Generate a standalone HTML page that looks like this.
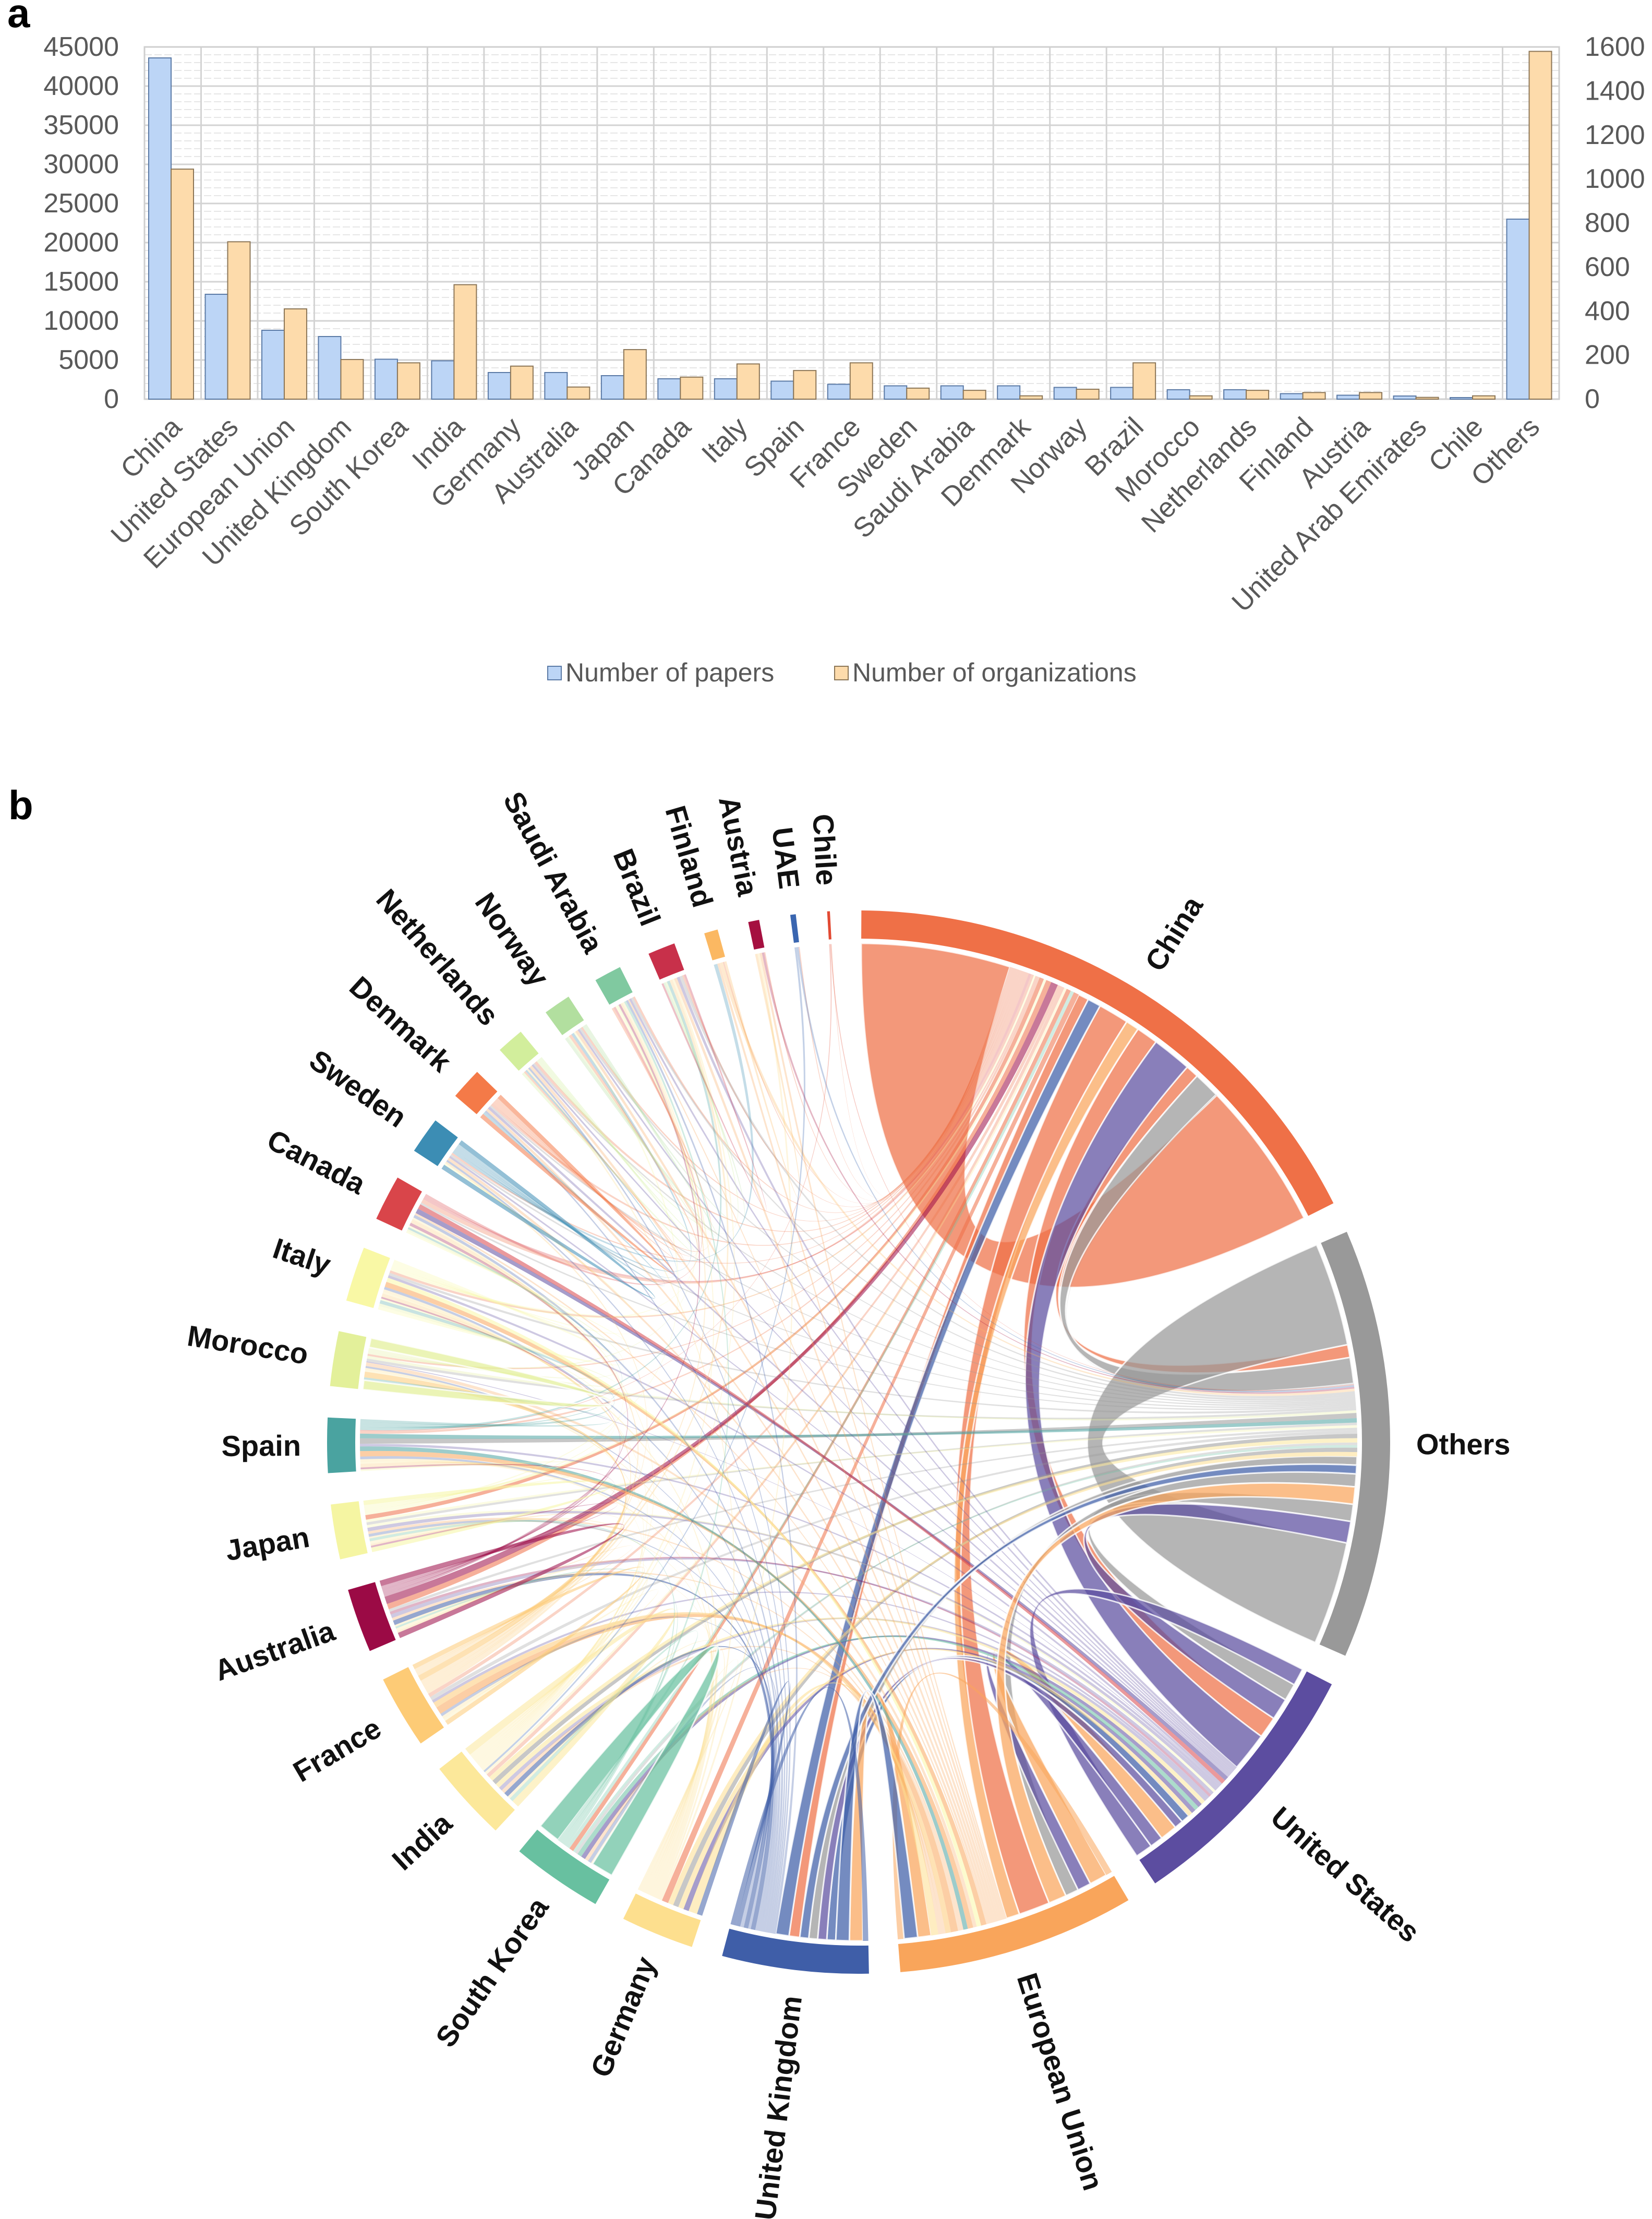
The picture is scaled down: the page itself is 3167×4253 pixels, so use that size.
<!DOCTYPE html>
<html>
<head>
<meta charset="utf-8">
<style>
  html,body{margin:0;padding:0;background:#fff;}
  svg{display:block;}
  text{font-family:"Liberation Sans",Arial,sans-serif;}
</style>
</head>
<body>
<svg id="fig" width="3167" height="4253" viewBox="0 0 3167 4253" xmlns="http://www.w3.org/2000/svg">
  <rect x="0" y="0" width="3167" height="4253" fill="#ffffff"/>
  <text x="14" y="52" font-size="78" font-weight="bold" fill="#000">a</text>
  <text x="16" y="1570" font-size="78" font-weight="bold" fill="#000">b</text>
  <g id="barChart"></g>
  <g id="legend">
    <rect x="1050" y="1277" width="26" height="26" fill="#bcd5f6" stroke="#5b7aa6" stroke-width="2"/>
    <text x="1084" y="1306" font-size="50" fill="#595959">Number of papers</text>
    <rect x="1600" y="1277" width="26" height="26" fill="#fddbab" stroke="#8c7657" stroke-width="2"/>
    <text x="1634" y="1306" font-size="50" fill="#595959">Number of organizations</text>
  </g>
  <g id="chord"></g>
</svg>
<script>
// ---------- Bar chart data ----------
const categories = ["China","United States","European Union","United Kingdom","South Korea","India","Germany","Australia","Japan","Canada","Italy","Spain","France","Sweden","Saudi Arabia","Denmark","Norway","Brazil","Morocco","Netherlands","Finland","Austria","United Arab Emirates","Chile","Others"];
const papers = [43600,13400,8800,8000,5100,4900,3400,3400,3000,2600,2600,2300,1900,1700,1700,1700,1500,1500,1200,1200,700,500,400,200,23000];
const organizations = [1045,715,410,180,165,520,150,55,225,100,160,130,165,50,40,15,45,165,15,40,30,30,8,15,1580];
const leftTicks = [0,5000,10000,15000,20000,25000,30000,35000,40000,45000];
const rightTicks = [0,200,400,600,800,1000,1200,1400,1600];

// ---------- Chord data ----------
const nodes = ["China","Others","United States","European Union","United Kingdom","Germany","South Korea","India","France","Australia","Japan","Spain","Morocco","Italy","Canada","Sweden","Denmark","Netherlands","Norway","Saudi Arabia","Brazil","Finland","Austria","UAE","Chile"];
const nodeSpans = [63,47,29,26,16,8,10,9,8,7,6,6,6,6,5,4,3.5,3,3,3,3,1.5,1.2,0.6,0.3];
const nodeColors = ["#ef7047","#999999","#5c4da0","#f9a55b","#3f5ea8","#fddf8e","#68c0a0","#fce89a","#fdcb76","#9b0a45","#f5f5a2","#4aa3a0","#e3f09a","#f9f8a5","#d9454a","#3c8db4","#f47a48","#d2ee9c","#b2df9f","#80c9a0","#c8304a","#fbb862","#a51040","#3a66b0","#e24a33"];
const linkSource = [0,0,0,0,0,0,0,0,0,0,0,0,0,0,0,0,0,0,0,0,0,0,0,0,0, 2,1,3,4,9,6,10,14,13,7,
  1,1,1,1,1,1,1,1,1,1,1,1,1,1,1,1,1,1,1,1,1, 11,7,5,6,12,10,
  2,2,3,2,4,2,2,2,2,2,2,2,2,2,2,2,2,2,2,2,2,2,5,6,7,14,9,10,
  3,3,3,5,3,8,3,11,3,13,3,3,3,3,3,3,3,3,3,3,3,3,3,3,
  4,4,4,4,4,4,4,4,4,4,4,4,4,4,4,4,4,
  5,5,5,5,5,5,5,5,5,5, 6,6,6,6,6,
  7,7,7,7,7,7,7,7,7,7, 8,8,8,8,8,8,8,8,8,8,
  9,9,9,9,9,9, 10,10,10,10,10, 11,11,11,11, 12,12,12,12, 13,13,13,13, 14,
  15,15,15,15,15, 16,16,16,16, 17,17,17, 18,18, 20, 21,21, 22, 23,23, 24,24];
const linkTarget = [0,3,2,4,1,5,9,14,10,6,19,8,7,13,11,15,16,17,18,20,12,21,22,23,24, 0,0,0,0,0,0,0,0,0,0,
  1,2,3,4,11,5,7,8,9,6,10,13,12,14,19,20,15,18,17,16,0, 1,1,1,1,1,1,
  1,2,2,3,2,4,5,6,7,14,9,10,8,13,11,19,20,16,18,15,17,12,2,2,2,2,2,2,
  1,4,3,3,8,3,11,3,13,3,6,7,9,10,12,17,15,16,18,21,22,20,14,19,
  1,3,4,5,6,7,9,11,13,8,14,19,12,17,10,15,16,
  11,13,8,6,7,9,10,12,17,22, 6,7,10,9,19,
  19,9,8,10,11,13,14,12,20,7, 12,11,13,14,20,9,10,15,8,19,
  10,14,11,19,13,9, 11,13,14,18,10, 13,12,20,14, 19,13,14,12, 19,14,15,13, 19,
  16,18,21,17,15, 18,17,19,16, 18,20,17, 20,18, 20, 22,1, 1, 1,7, 1,11];
const linkValues = [17,3.5,2.5,1.2,1.5,0.6,0.6,0.4,0.5,0.5,0.3,0.4,0.4,0.3,0.3,0.2,0.3,0.3,0.2,0.2,0.2,0.1,0.1,0.1,0.05, 4.5,3,1.5,1.5,0.8,0.4,0.3,0.3,0.2,0.3,
  12,2,1.5,1,0.6,0.5,0.5,0.4,0.3,0.3,0.3,0.3,0.3,0.2,0.3,0.3,0.2,0.2,0.2,0.2,0.1, 0.5,0.5,0.5,0.3,0.3,0.3,
  2.5,2,2,1.5,1,1,0.5,0.5,0.4,0.5,0.4,0.4,0.3,0.3,0.3,0.3,0.3,0.3,0.2,0.2,0.2,0.1,0.5,0.5,0.5,0.5,0.3,0.3,
  2,1.5,0.7,0.8,0.8,0.6,0.6,0.5,0.6,0.5,0.4,0.4,0.3,0.3,0.4,0.3,0.3,0.3,0.3,0.2,0.2,0.3,0.2,0.2,
  1,1.5,0.6,0.5,0.4,0.5,0.5,0.3,0.3,0.3,0.3,0.3,0.2,0.2,0.3,0.2,0.2,
  0.3,0.3,0.3,0.2,0.3,0.2,0.2,0.2,0.2,0.2, 2.5,0.4,0.3,0.2,0.3,
  0.3,0.3,0.3,0.3,0.2,0.2,0.2,0.2,0.2,0.8, 0.6,0.4,0.4,0.4,0.3,0.2,0.2,0.2,0.5,0.3,
  0.2,0.3,0.2,0.3,0.2,0.6, 0.2,0.2,0.2,0.2,0.5, 0.4,0.3,0.3,0.2, 0.2,0.3,0.2,1, 0.3,0.2,0.2,0.4, 0.3,
  0.3,0.3,0.3,0.2,0.5, 0.3,0.2,0.3,0.5, 0.2,0.2,0.3, 0.2,0.3, 0.2, 0.2,0.3, 0.2, 0.2,0.2, 0.1,0.1];

const NS = "http://www.w3.org/2000/svg";
function mk(tag, attrs, parent){
  const e = document.createElementNS(NS, tag);
  for (const k in attrs) e.setAttribute(k, attrs[k]);
  parent.appendChild(e);
  return e;
}

// ---------- Bar chart ----------
(function(){
  const g = document.getElementById('barChart');
  const X0 = 277, X1 = 2989, Y0 = 765, Y1 = 90;
  const gw = (X1 - X0) / categories.length;
  const yL = v => Y0 - v / 45000 * (Y0 - Y1);
  const yR = v => Y0 - v / 1600 * (Y0 - Y1);
  for (let i = 0; i < leftTicks.length - 1; i++) {
    for (let m = 1; m < 5; m++) {
      const v = leftTicks[i] + (leftTicks[i+1] - leftTicks[i]) * m / 5;
      const ln = mk('line', {x1:X0, x2:X1, y1:yL(v), y2:yL(v), stroke:'#e6e6e6', 'stroke-width':2, 'stroke-dasharray':'14,5'}, g);
      
      
    }
  }
  leftTicks.forEach(t => {
    const ln = mk('line', {x1:X0, x2:X1, y1:yL(t), y2:yL(t), stroke:'#d3d3d3', 'stroke-width':3}, g);
    
    
    const tx = mk('text', {x:228, y:yL(t), 'font-size':52, fill:'#595959', 'text-anchor':'end', 'dominant-baseline':'central'}, g);
    tx.textContent = t;
    
    
  });
  rightTicks.forEach(t => {
    const tx = mk('text', {x:3038, y:yR(t), 'font-size':52, fill:'#595959', 'text-anchor':'start', 'dominant-baseline':'central'}, g);
    tx.textContent = t;
    
    
  });
  for (let i = 0; i <= categories.length; i++) {
    const x = X0 + i * gw;
    const ln = mk('line', {x1:x, x2:x, y1:Y1, y2:Y0, stroke:'#d3d3d3', 'stroke-width':3}, g);
    
    
  }
  const border = mk('rect', {x:X0, y:Y1, width:X1-X0, height:Y0-Y1, fill:'none', stroke:'#cfcfcf', 'stroke-width':3}, g);
  
  
  const bw = 43;
  categories.forEach((c, i) => {
    const gx = X0 + i * gw;
    const b1 = mk('rect', {x:gx+8, y:yL(papers[i]), width:bw, height:Y0-yL(papers[i]), fill:'#bcd5f6', stroke:'#5b7aa6', 'stroke-width':2}, g);
    
    
    const b2 = mk('rect', {x:gx+8+bw, y:yR(organizations[i]), width:bw, height:Y0-yR(organizations[i]), fill:'#fddbab', stroke:'#8c7657', 'stroke-width':2}, g);
    
    
    const cx = gx + gw/2 + 10, cy = 812;
    const tx = mk('text', {x:cx, y:cy, 'font-size':53, fill:'#595959', 'text-anchor':'end', 'dominant-baseline':'middle', transform:`rotate(-45 ${cx} ${cy})`}, g);
    tx.textContent = c;
    
    
  });
})();

// ---------- Chord diagram ----------
(function(){
  const g = document.getElementById('chord');
  const CX = 1646, CY = 2764, RO = 1019, RI = 965, RC = 956;
  const total = nodeSpans.reduce((a,b)=>a+b,0);
  const gap = (360 - total) / nodes.length;
  const starts = [], mids = [];
  let a = 0.3;
  nodeSpans.forEach((s,i) => { starts.push(a); mids.push(a + s/2); a += s + gap; });
  const rad = d => d * Math.PI / 180;
  const P = (r, d) => [CX + r * Math.sin(rad(d)), CY - r * Math.cos(rad(d))];
  const mod = v => ((v % 360) + 360) % 360;

  const ends = nodes.map(() => []);
  linkSource.forEach((s, i) => {
    const t = linkTarget[i], w = linkValues[i];
    if (s === t) {
      ends[s].push({i, side:0, key:360, w});
      ends[s].push({i, side:1, key:-1, w});
    } else {
      ends[s].push({i, side:0, key:mod(mids[t]-mids[s]), w});
      ends[t].push({i, side:1, key:mod(mids[s]-mids[t]), w});
    }
  });
  const pos = linkSource.map(() => [null, null]);
  ends.forEach((list, n) => {
    list.sort((p,q) => q.key - p.key);
    const sum = list.reduce((acc,e)=>acc+e.w,0) || 1;
    const k = nodeSpans[n] / sum;
    let cur = starts[n];
    list.forEach(e => { pos[e.i][e.side] = [cur, cur + e.w * k]; cur += e.w * k; });
  });

  linkSource.forEach((s, i) => {
    const [A, B] = pos[i];
    const a0 = P(RC, A[0]), a1 = P(RC, A[1]), b0 = P(RC, B[0]), b1 = P(RC, B[1]);
    const d = `M${a0[0]},${a0[1]} A${RC},${RC} 0 0 1 ${a1[0]},${a1[1]} Q${CX},${CY} ${b0[0]},${b0[1]} A${RC},${RC} 0 0 1 ${b1[0]},${b1[1]} Q${CX},${CY} ${a0[0]},${a0[1]} Z`;
    const w = linkValues[i];
    const op = w >= 1 ? 0.72 : (w >= 0.5 ? 0.55 : 0.3);
    const attrs = {d, fill:nodeColors[s], 'fill-opacity': op};
    if (w >= 1) { attrs.stroke = '#ffffff'; attrs['stroke-width'] = 3; attrs['stroke-opacity'] = 0.8; }
    const p = mk('path', attrs, g);
    
    
  });

  nodes.forEach((nm, n) => {
    const s0 = starts[n], s1 = starts[n] + nodeSpans[n];
    const o0 = P(RO, s0), o1 = P(RO, s1), i0 = P(RI, s1), i1 = P(RI, s0);
    const large = nodeSpans[n] > 180 ? 1 : 0;
    const d = `M${o0[0]},${o0[1]} A${RO},${RO} 0 ${large} 1 ${o1[0]},${o1[1]} L${i0[0]},${i0[1]} A${RI},${RI} 0 ${large} 0 ${i1[0]},${i1[1]} Z`;
    const arc = mk('path', {d, fill:nodeColors[n]}, g);
    
    
    const m = mids[n];
    const lp = P(RO + 50, m);
    let rot, anchor;
    if (m < 180) { rot = m - 90; anchor = 'start'; } else { rot = m + 90; anchor = 'end'; }
    const tx = mk('text', {x:lp[0], y:lp[1], 'font-size':56, 'font-weight':'bold', fill:'#111', 'text-anchor':anchor, 'dominant-baseline':'central', transform:`rotate(${rot} ${lp[0]} ${lp[1]})`}, g);
    tx.textContent = nm;
    
    
  });
})();
</script>
</body>
</html>
